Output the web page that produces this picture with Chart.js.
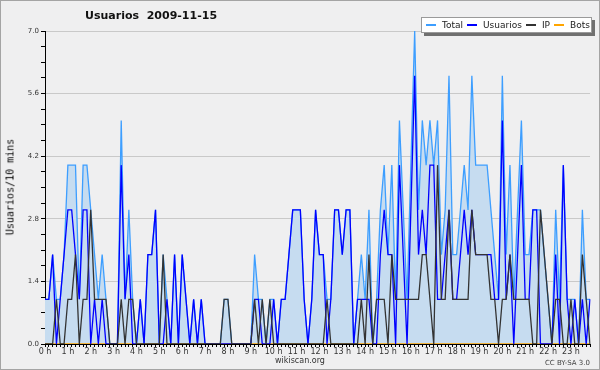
<!DOCTYPE html>
<html>
<head>
<meta charset="utf-8">
<script src="https://cdn.jsdelivr.net/npm/chart.js@4.4.1/dist/chart.umd.min.js"></script>
<style>
  body { margin: 0; background: #efeff0; }
  #wrap { position: relative; width: 600px; height: 370px; background: #efeff0; font-family: "DejaVu Sans", sans-serif; }
  #frame { position: absolute; left: 0; top: 0; width: 598px; height: 368px; border: 1px solid #a4a4a4; pointer-events: none; }
  #title { position: absolute; left: 85px; top: 9px; font-weight: bold; font-size: 11px; color: #111; white-space: pre; }
  #legend { position: absolute; left: 421px; top: 17px; width: 165px; height: 14px; background: #fff; border: 1px solid #9a9a9a;
            box-shadow: 3px 3px 0 #707070; display: flex; align-items: center; font-size: 9px; color: #222; padding-left: 4px; }
  .item { display: flex; align-items: center; margin-right: 4px; }
  .sw { display: inline-block; width: 10px; height: 1.5px; margin-right: 6px; }
  #ytitle { position: absolute; left: 10px; top: 187px; transform: translate(-50%, -50%) rotate(-90deg);
            font-family: "DejaVu Sans Mono", monospace; font-size: 10px; color: #000; white-space: nowrap; }
  #site { position: absolute; left: 0; width: 600px; top: 356px; text-align: center; font-size: 8px; color: #333; }
  #lic { position: absolute; right: 10px; top: 359px; font-size: 7px; color: #444; }
</style>
</head>
<body>
<div id="wrap">
  <canvas id="chart" width="600" height="370"></canvas>
  <div id="title">Usuarios  2009-11-15</div>
  <div id="legend">
    <div class="item"><span class="sw" style="background:#3d9eff"></span>Total</div>
    <div class="item"><span class="sw" style="background:#0000ff"></span>Usuarios</div>
    <div class="item"><span class="sw" style="background:#333333"></span>IP</div>
    <div class="item"><span class="sw" style="background:#ffa500"></span>Bots</div>
  </div>
  <div id="ytitle">Usuarios/10 mins</div>
  <div id="site">wikiscan.org</div>
  <div id="lic">CC BY-SA 3.0</div>
  <div id="frame"></div>
</div>
<script>
// hour labels on the x axis, one point every 10 minutes
const hourLabels = ['0 h','1 h','2 h','3 h','4 h','5 h','6 h','7 h','8 h','9 h','10 h','11 h',
                    '12 h','13 h','14 h','15 h','16 h','17 h','18 h','19 h','20 h','21 h','22 h','23 h'];
const yTicks = [0, 1.4, 2.8, 4.2, 5.6, 7.0];

const total = [
  1,1,2,1,1,2,4,4,4,1, 4,4,3,2,1,2,1,0,0,0, 5,1,3,1,0,1,0,2,2,3,
  0,2,1,0,2,0,2,1,0,1, 0,1,0,0,0,0,0,1,1,0, 0,0,0,0,0,2,1,1,0,1,
  1,0,1,1,2,3,3,3,1,0, 1,3,2,2,1,1,3,3,2,3, 3,0,1,2,1,3,0,1,3,4,
  2,4,1,5,3,1,4,7,3,5, 4,5,4,5,2,3,6,2,2,3, 4,3,6,4,4,4,4,3,2,1,
  6,2,4,1,3,5,2,2,3,3, 3,2,1,0,3,1,4,1,1,1, 0,3,1,1
];
const usuarios = [
  1,1,2,0,1,2,3,3,2,1, 3,3,0,1,0,1,0,0,0,0, 4,1,2,0,0,1,0,2,2,3,
  0,0,1,0,2,0,2,1,0,1, 0,1,0,0,0,0,0,0,0,0, 0,0,0,0,0,1,1,0,0,0,
  1,0,1,1,2,3,3,3,1,0, 1,3,2,2,0,1,3,3,2,3, 3,0,1,1,1,1,0,0,2,3,
  2,2,0,4,2,0,3,6,2,3, 2,4,4,1,1,2,3,1,1,2, 3,2,3,2,2,2,2,2,1,1,
  5,1,2,0,2,4,1,1,3,3, 0,0,0,0,2,0,4,1,0,1, 0,1,0,1
];
const ip = [
  0,0,0,1,0,0,1,1,2,0, 1,1,3,1,1,1,1,0,0,0, 1,0,1,1,0,0,0,0,0,0,
  0,2,0,0,0,0,0,0,0,0, 0,0,0,0,0,0,0,1,1,0, 0,0,0,0,0,1,0,1,0,1,
  0,0,0,0,0,0,0,0,0,0, 0,0,0,0,1,0,0,0,0,0, 0,0,0,1,0,2,0,1,1,1,
  0,2,1,1,1,1,1,1,1,2, 2,1,0,4,1,1,3,1,1,1, 1,1,3,2,2,2,2,1,1,0,
  1,1,2,1,1,1,1,1,0,0, 3,2,1,0,1,1,0,0,1,0, 0,2,1,0
];
const bots = [
  0,0,0,0,0,0,0,0,0,0, 0,0,0,0,0,0,0,0,0,0, 0,0,0,0,0,0,0,0,0,0,
  0,0,0,0,0,0,0,0,0,0, 0,0,0,0,0,0,0,0,0,0, 0,0,0,0,0,0,0,0,0,0,
  0,0,0,0,0,0,0,0,0,0, 0,0,0,0,0,0,0,0,0,0, 0,0,0,0,0,0,0,0,0,0,
  0,0,0,0,0,0,0,0,0,0, 0,0,0,0,0,0,0,0,0,0, 0,0,0,0,0,0,0,0,0,0,
  0,0,0,0,0,0,0,0,0,0, 0,0,0,0,0,0,0,0,0,0, 0,0,0,0
];

// categories: 6 slots per hour
const slots = [];
for (let h = 0; h < 24; h++) {
  for (let m = 0; m < 60; m += 10) slots.push(h + ':' + (m < 10 ? '0' + m : m));
}

function isMajor(v) {
  return yTicks.some(t => Math.abs(t - v) < 1e-6);
}

Chart.defaults.font.family = 'DejaVu Sans';
Chart.defaults.color = '#333';

const lineOpts = { pointRadius: 0, tension: 0, borderWidth: 1.3, borderJoinStyle: 'miter' };

new Chart(document.getElementById('chart'), {
  type: 'line',
  data: {
    labels: slots,
    datasets: [
      Object.assign({ label: 'Total', data: total, borderColor: '#3d9eff', backgroundColor: '#c6dcf0', fill: 'origin', order: 3 }, lineOpts),
      Object.assign({ label: 'Usuarios', data: usuarios, borderColor: '#0000ff', fill: false, order: 1 }, lineOpts),
      Object.assign({ label: 'IP', data: ip, borderColor: '#333333', fill: false, order: 0 }, lineOpts),
      Object.assign({ label: 'Bots', data: bots, borderColor: '#ffa500', fill: false, order: 2 }, lineOpts)
    ]
  },
  options: {
    responsive: false,
    animation: false,
    devicePixelRatio: 1,
    layout: { padding: { left: 0, top: 31, right: 10, bottom: 0 } },
    plugins: { legend: { display: false }, title: { display: false }, tooltip: { enabled: false } },
    scales: {
      x: {
        offset: false,
        afterFit: s => { s.height = 26; },
        border: { display: true, color: '#000', width: 1 },
        grid: { drawOnChartArea: false, drawTicks: true, tickLength: 3, tickColor: '#000' },
        ticks: {
          autoSkip: false, maxRotation: 0, minRotation: 0, padding: 0,
          font: { size: 8 }, color: '#333',
          callback: (v, i) => (i % 6 === 0 ? hourLabels[i / 6] : '')
        }
      },
      y: {
        min: 0, max: 7,
        afterFit: s => { s.width = 45; },
        border: { display: true, color: '#000', width: 1 },
        grid: {
          color: c => (isMajor(c.tick.value) ? '#c9c9c9' : 'rgba(0,0,0,0)'),
          tickColor: '#000', tickLength: 4
        },
        ticks: {
          stepSize: 0.35, padding: 2, font: { size: 7 }, color: '#333',
          callback: v => (isMajor(v) ? v.toFixed(1) : '')
        }
      }
    }
  }
});
</script>
</body>
</html>
